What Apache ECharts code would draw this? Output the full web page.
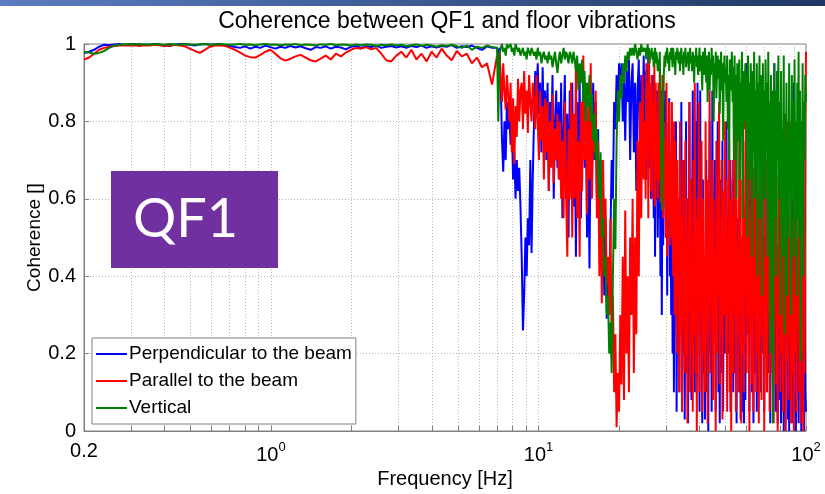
<!DOCTYPE html>
<html><head><meta charset="utf-8">
<script src="https://cdn.jsdelivr.net/npm/echarts@6/dist/echarts.min.js"></script>
<style>html,body{margin:0;padding:0;background:#fff}#c{width:825px;height:494px}</style>
</head><body><div id="c"></div>
<script>
// ---- data ----
const chartTitle = 'Coherence between QF1 and floor vibrations';
const seriesNames = ['Perpendicular to the beam', 'Parallel to the beam', 'Vertical'];
const xLabelValues = [0.2, 1, 10, 100];
const xTickValues = [0.2,0.3,0.4,0.5,0.6,0.7,0.8,0.9,1,2,3,4,5,6,7,8,9,10,20,30,40,50,60,70,80,90,100];
const yTickValues = [0, 0.2, 0.4, 0.6, 0.8, 1];
// frequency bands in which the coherence was sampled (log-spaced samples in each band)
const bandLow = [0.2, 7];
const bandMid = [7, 25];
const bandTop = [25, 100];

// 0.2 Hz - 7 Hz
const perpLow = [0.977,0.98,0.985,0.993,0.998,
0.997,0.999,1.0,0.998,0.999,1.0,0.997,0.999,0.998,1.0,0.999,0.997,0.995,0.998,1.0,0.999,0.998,0.996,0.999,1.0,0.998,0.999,1.0,0.997,
0.995,0.992,0.99,0.994,0.988,0.993,0.99,0.996,0.992,0.988,
0.993,0.99,0.995,0.991,0.994,0.989,0.985,0.992,0.99,0.994,
0.988,0.993,0.991,0.986,0.993,0.995,0.99,0.994,0.992,0.996,
0.99,0.993,0.995,0.991,0.994,0.99,0.995,0.992,0.996,0.99,
0.994,0.991,0.995,0.993,0.997,0.99,0.994,0.992,0.996,0.99,
0.985,0.994,0.99];
const paraLow = [0.96,0.965,0.975,0.985,0.99,0.993,0.995,0.996,0.997,0.996,
0.997,0.995,0.997,0.996,0.998,0.997,0.995,0.997,0.998,0.996,
0.994,0.988,0.982,0.977,0.985,0.993,0.996,0.997,0.995,0.99,
0.985,0.978,0.97,0.966,0.965,0.972,0.98,0.985,0.975,0.963,
0.957,0.962,0.968,0.972,0.965,0.958,0.955,0.962,0.97,0.96,
0.975,0.968,0.978,0.985,0.99,0.988,0.992,0.986,0.99,0.975,
0.958,0.955,0.97,0.98,0.965,0.985,0.96,0.975,0.955,0.98,
0.965,0.988,0.97,0.958,0.982,0.968,0.975,0.95,0.965,0.94,
0.95,0.895];
const vertLow = [0.98,0.978,0.975,0.977,0.982,0.99,0.996,0.998,0.999,1.0,
0.999,1.0,0.998,0.999,1.0,0.999,0.998,1.0,0.999,0.998,
1.0,0.999,0.998,0.999,1.0,0.998,0.999,1.0,0.999,0.998,
0.999,1.0,0.998,0.999,0.997,0.999,1.0,0.998,0.999,0.997,
0.999,0.998,1.0,0.997,0.999,0.998,0.996,0.999,0.998,1.0,
0.997,0.999,0.998,0.996,0.999,0.997,0.999,0.998,0.995,0.998,
0.997,0.999,0.996,0.998,0.994,0.997,0.999,0.995,0.998,0.996,
0.993,0.997,0.995,0.998,0.994,0.99,0.996,0.985,0.993,0.99,
0.996,0.992];

// 7 Hz - 25 Hz
const perpMid = [
0.99,0.97,0.99,0.9,0.75,0.67,0.8,0.7,0.85,0.78,
0.82,0.74,0.8,0.65,0.72,0.6,0.7,0.62,0.68,0.58,
0.45,0.26,0.35,0.5,0.4,0.55,0.48,0.7,0.46,0.66,
0.8,0.93,0.85,0.95,0.82,0.9,0.72,0.94,0.78,0.88,
0.7,0.9,0.62,0.85,0.75,0.92,0.6,0.8,0.88,0.68,
0.85,0.65,0.9,0.55,0.78,0.92,0.6,0.82,0.5,0.88,
0.7,0.9,0.58,0.8,0.45,0.85,0.62,0.92,0.55,0.78,
0.9,0.68,0.85,0.5,0.75,0.42,0.8,0.65,0.9,0.7,
0.85,0.6,0.78,0.5,0.7,0.45,0.62,0.35,0.55,0.29,
0.4,0.32,0.5,0.7,0.6,0.85,0.78,0.92,0.82,0.95,
0.88,0.95,0.8,0.9,0.75,0.93,0.85,0.96,0.7,0.9,
0.95,0.72,0.9,0.62,0.88,0.96,0.7,0.92,0.8,0.97];
const paraMid = [
0.97,0.93,0.98,0.9,0.85,0.95,0.88,0.83,0.92,0.87,
0.8,0.9,0.72,0.86,0.69,0.84,0.76,0.91,0.8,0.88,
0.9,0.78,0.93,0.82,0.88,0.77,0.92,0.85,0.8,0.9,
0.85,0.78,0.92,0.8,0.7,0.88,0.75,0.84,0.65,0.86,
0.72,0.85,0.62,0.8,0.68,0.87,0.64,0.78,0.7,0.82,
0.65,0.8,0.6,0.75,0.55,0.85,0.62,0.45,0.78,0.6,
0.9,0.5,0.82,0.6,0.95,0.55,0.75,0.45,0.85,0.62,
0.97,0.7,0.9,0.56,0.85,0.65,0.95,0.6,0.8,0.72,
0.88,0.55,0.75,0.4,0.65,0.33,0.7,0.5,0.6,0.38,
0.45,0.3,0.55,0.2,0.35,0.1,0.25,0.01,0.15,0.05,
0.3,0.12,0.45,0.08,0.57,0.2,0.4,0.1,0.5,0.3,
0.6,0.15,0.5,0.25,0.75,0.4,0.85,0.55,0.92,0.65];
const vertMid = [
0.99,0.8,0.97,0.99,1.0,0.98,0.99,0.97,1.0,0.99,
0.99,1.0,0.98,0.99,0.97,1.0,0.99,0.98,0.99,0.97,
0.98,0.99,0.97,0.98,0.96,0.99,0.98,0.97,0.99,0.98,
0.97,0.98,0.96,0.99,0.97,0.98,0.95,0.97,0.98,0.96,
0.97,0.95,0.98,0.96,0.97,0.94,0.96,0.98,0.95,0.925,
0.96,0.98,0.95,0.97,0.99,0.96,0.98,0.97,0.95,0.98,
0.97,0.95,0.98,0.96,0.93,0.97,0.88,0.95,0.9,0.96,
0.85,0.93,0.8,0.9,0.84,0.92,0.8,0.87,0.75,0.82,
0.7,0.78,0.67,0.6,0.72,0.5,0.55,0.4,0.45,0.3,
0.35,0.2,0.28,0.15,0.4,0.6,0.47,0.75,0.88,0.8,
0.92,0.86,0.95,0.9,0.97,0.93,0.98,0.96,0.99,0.97,
0.99,0.97,1.0,0.98,0.96,0.99,0.97,1.0,0.98,0.99];

// 25 Hz - 100 Hz
const perpTop = [
0.75,0.93,0.65,0.9,0.85,0.97,0.68,0.9,0.78,0.6,
0.85,0.7,0.92,0.55,0.8,0.45,0.75,0.6,0.88,0.5,
0.82,0.55,0.75,0.4,0.88,0.3,0.7,0.48,0.85,0.6,
0.88,0.5,0.8,0.35,0.7,0.55,0.86,0.4,0.6,0.3,
0.75,0.2,0.6,0.1,0.5,0.3,0.8,0.05,0.45,0.25,
0.6,0.1,0.75,0.3,0.85,0.05,0.5,0.2,0.7,0.03,
0.4,0.8,0.15,0.6,0.02,0.5,0.85,0.25,0.65,0.08,
0.55,0.88,0.3,0.7,0.1,0.8,0.45,0.2,0.9,0.35,
0.6,0.05,0.88,0.25,0.5,0.02,0.65,0.15,0.4,0.03,
0.3,0.7,0.1,0.55,0.0,0.45,0.8,0.2,0.6,0.05,
0.88,0.4,0.6,0.25,0.7,0.05,0.6,0.3,0.8,0.1,
0.5,0.02,0.65,0.35,0.15,0.75,0.05,0.45,0.2,0.6,
0.3,0.8,0.1,0.55,0.4,0.2,0.7,0.05,0.5,0.25,
0.65,0.1,0.45,0.85,0.15,0.35,0.02,0.55,0.2,0.4,
0.1,0.6,0.03,0.3,0.05,0.45,0.15,0.02,0.35,0.08,
0.95,0.4,0.92,0.25,0.7,0.05,0.6,0.3,0.8,0.1,
0.5,0.02,0.65,0.35,0.15,0.75,0.05,0.45,0.2,0.6,
0.3,0.8,0.1,0.6,0.4,0.2,0.7,0.05,0.5,0.25,
0.65,0.1,0.45,0.85,0.15,0.35,0.02,0.55,0.2,0.4,
0.1,0.6,0.95,0.3,0.05,0.45,0.15,0.02,0.35,0.08,
0.55,0.2,0.02,0.4,0.1,0.6,0.0,0.3,0.05,0.5,
0.15,0.7,0.03,0.35,0.0,0.45,0.1,0.25,0.02,0.6,
0.2,0.9,0.05,0.4,0.0,0.3,0.1,0.5,0.02,0.25,
0.1,0.45,0.0,0.3,0.05,0.2,0.0,0.4,0.1,0.05];
const paraTop = [
0.8,0.6,0.95,0.7,0.9,0.55,0.97,0.75,0.88,0.62,
0.92,0.6,0.85,0.7,0.95,0.58,0.9,0.65,0.8,0.6,
0.9,0.65,0.95,0.59,0.85,0.7,0.92,0.55,0.8,0.6,
0.75,0.5,0.9,0.45,0.7,0.55,0.85,0.48,0.62,0.5,
0.85,0.55,0.4,0.8,0.3,0.75,0.45,0.2,0.7,0.35,
0.6,0.1,0.8,0.25,0.55,0.05,0.7,0.3,0.45,0.15,
0.75,0.2,0.6,0.02,0.5,0.35,0.85,0.1,0.65,0.3,
0.4,0.05,0.7,0.25,0.9,0.15,0.55,0.0,0.6,0.3,
0.85,0.1,0.5,0.35,0.75,0.05,0.6,0.2,0.45,0.1,
0.8,0.25,0.65,0.02,0.55,0.3,0.88,0.15,0.5,0.4,
0.7,0.08,0.6,0.3,0.45,0.0,0.75,0.2,0.55,0.35,
0.85,0.12,0.5,0.25,0.7,0.03,0.62,0.4,0.3,0.8,
0.2,0.65,0.05,0.5,0.35,0.75,0.1,0.6,0.0,0.45,
0.7,0.15,0.55,0.3,0.9,0.05,0.6,0.25,0.48,0.1,
0.82,0.3,0.65,0.02,0.5,0.2,0.75,0.1,0.58,0.35,
0.9,0.15,0.6,0.3,0.7,0.0,0.55,0.25,0.8,0.12,
0.45,0.05,0.68,0.3,0.85,0.1,0.5,0.2,0.62,0.02,
0.75,0.25,0.55,0.08,0.88,0.35,0.6,0.0,0.45,0.2,
0.7,0.1,0.58,0.3,0.8,0.05,0.5,0.25,0.65,0.15,
0.85,0.02,0.6,0.35,0.72,0.12,0.48,0.0,0.66,0.28,
0.55,0.1,0.78,0.2,0.6,0.05,0.7,0.3,0.45,0.0,
0.62,0.18,0.8,0.08,0.5,0.25,0.7,0.02,0.55,0.15,
0.4,0.0,0.65,0.2,0.75,0.05,0.5,0.3,0.6,0.1,
0.72,0.02,0.45,0.2,0.6,0.0,0.55,0.15,0.8,0.98];
const vertTop = [
0.98,0.99,0.96,0.98,1.0,0.97,0.99,0.95,0.98,0.97,
0.99,0.96,0.98,0.94,0.97,0.99,0.95,0.98,0.96,0.93,
0.96,0.93,0.98,0.85,0.7,0.57,0.65,0.8,0.92,0.97,
0.94,0.98,0.96,0.99,0.95,0.97,0.93,0.98,0.96,0.99,
0.97,0.94,0.99,0.95,0.97,0.92,0.98,0.96,0.99,0.97,
0.95,0.98,0.93,0.97,0.99,0.95,0.97,0.92,0.98,0.96,
0.99,0.94,0.97,0.95,0.98,0.93,0.96,0.99,0.95,0.97,
0.93,0.98,0.96,0.9,0.97,0.95,0.99,0.94,0.97,0.92,
0.96,0.99,0.93,0.97,0.95,0.88,0.98,0.96,0.92,0.99,
0.95,0.9,0.97,0.85,0.94,0.98,0.88,0.96,0.92,0.99,
0.93,0.97,0.8,0.95,0.9,0.98,0.86,0.94,0.97,0.91,
0.96,0.82,0.93,0.98,0.88,0.95,0.75,0.92,0.97,0.9,
0.94,0.85,0.97,0.78,0.92,0.7,0.96,0.88,0.93,0.98,
0.85,0.94,0.7,0.97,0.8,0.92,0.6,0.95,0.88,0.75,
0.96,0.65,0.9,0.82,0.98,0.55,0.93,0.78,0.88,0.95,
0.8,0.92,0.5,0.97,0.75,0.9,0.65,0.95,0.85,0.45,
0.93,0.72,0.98,0.6,0.88,0.8,0.95,0.4,0.9,0.82,
0.97,0.55,0.85,0.92,0.35,0.95,0.75,0.88,0.6,0.96,
0.8,0.9,0.45,0.98,0.7,0.85,0.2,0.92,0.65,0.88,
0.02,0.75,0.95,0.55,0.88,0.4,0.93,0.7,0.97,0.6,
0.85,0.3,0.93,0.6,0.78,0.45,0.97,0.25,0.82,0.55,
0.9,0.35,0.75,0.5,0.95,0.65,0.8,0.3,0.92,0.7,
0.85,0.45,0.96,0.6,0.8,0.35,0.9,0.55,0.98,0.5,
0.88,0.18,0.8,0.6,0.95,0.4,0.85,0.7,0.92,0.85];

// ---- build ----
function logSamples(band, n, inclusiveEnd) {
  const a = Math.log10(band[0]), b = Math.log10(band[1]);
  const d = inclusiveEnd ? n - 1 : n;
  const out = [];
  for (let i = 0; i < n; i++) out.push(Math.pow(10, a + (b - a) * i / d));
  return out;
}
function pairs(low, mid, top) {
  const f = logSamples(bandLow, low.length, false)
    .concat(logSamples(bandMid, mid.length, false))
    .concat(logSamples(bandTop, top.length, true));
  const v = low.concat(mid, top);
  return f.map((x, i) => [x, v[i]]);
}
const colors = ['#0000ff', '#ff0000', '#008000'];
const seriesData = [pairs(perpLow, perpMid, perpTop), pairs(paraLow, paraMid, paraTop), pairs(vertLow, vertMid, vertTop)];

const FONT = '"Liberation Sans", Arial, sans-serif';
const chart = echarts.init(document.getElementById('c'), null, {renderer: 'canvas'});
chart.setOption({
  animation: false,
  backgroundColor: '#fff',
  textStyle: {fontFamily: FONT},
  grid: {left: 84, right: 19, top: 44, bottom: 59, show: true, borderColor: '#808080', borderWidth: 1, backgroundColor: 'transparent'},
  xAxis: {
    type: 'log', logBase: 10, min: 0.2, max: 100,
    name: 'Frequency [Hz]', nameLocation: 'middle', nameGap: 38, nameMoveOverlap: false,
    nameTextStyle: {fontSize: 20, color: '#000', fontFamily: FONT},
    axisLine: {show: true, lineStyle: {color: '#808080', width: 1}},
    axisTick: {show: true, inside: true, length: 5, customValues: xTickValues, lineStyle: {color: '#808080'}},
    minorTick: {show: false},
    splitLine: {show: true, lineStyle: {color: '#b8b8b8', type: [1, 2], width: 1}},
    axisLabel: {
      customValues: xLabelValues, margin: 10, color: '#000', fontSize: 20, fontFamily: FONT,
      formatter: v => (Math.abs(v - 0.2) < 1e-9 ? '{b|0.2}' : '{b|10}{e|' + Math.round(Math.log10(v)) + '}'),
      rich: {b: {fontSize: 20, fontFamily: FONT, color: '#000'}, e: {fontSize: 13, fontFamily: FONT, color: '#000', padding: [0, 0, 16, 0]}}
    }
  },
  yAxis: {
    type: 'value', min: 0, max: 1, interval: 0.2,
    name: 'Coherence []', nameLocation: 'middle', nameGap: 40, nameMoveOverlap: false,
    nameTextStyle: {fontSize: 19, color: '#000', fontFamily: FONT},
    axisLine: {show: true, lineStyle: {color: '#808080', width: 1}},
    axisTick: {show: true, inside: true, length: 5, lineStyle: {color: '#808080'}},
    splitLine: {show: true, lineStyle: {color: '#b8b8b8', type: [1, 2], width: 1}},
    axisLabel: {color: '#000', fontSize: 20, fontFamily: FONT, margin: 8,
      formatter: v => (v === 0 ? '0' : v === 1 ? '1' : v.toFixed(1))}
  },
  legend: {
    orient: 'vertical', left: 92, top: 338,
    data: seriesNames, icon: 'rect', itemWidth: 31, itemHeight: 2, itemGap: 5,
    borderColor: '#808080', borderWidth: 1, backgroundColor: '#fff', borderRadius: 0,
    padding: [5, 4, 5, 4],
    textStyle: {fontSize: 19, color: '#000', fontFamily: FONT, lineHeight: 22, padding: [0, 0, 0, -3]}
  },
  series: seriesNames.map((n, i) => ({
    name: n, type: 'line', data: seriesData[i], showSymbol: false, symbol: 'none',
    color: colors[i], lineStyle: {color: colors[i], width: 2}, z: 2 + i
  })),
  graphic: [
    {type: 'rect', left: 0, top: 0, z: 100, shape: {width: 825, height: 6},
     style: {fill: new echarts.graphic.LinearGradient(0, 0, 1, 0, [{offset: 0, color: '#5b7cc2'}, {offset: 1, color: '#1f3864'}])}},
    {type: 'text', x: 447, y: 22, z: 100,
     style: {text: chartTitle, fill: '#000', font: '23px ' + FONT, textAlign: 'center', textVerticalAlign: 'middle'}},
    {type: 'rect', x: 111, y: 171, z: 100, shape: {width: 167, height: 97}, style: {fill: '#7030a0'}},
    {type: 'text', x: 133, y: 220, z: 101,
     style: {text: 'QF1', fill: '#fff', font: '54px Lato, "Open Sans", sans-serif', textAlign: 'left', textVerticalAlign: 'middle'}}
  ]
});
</script>
</body></html>
